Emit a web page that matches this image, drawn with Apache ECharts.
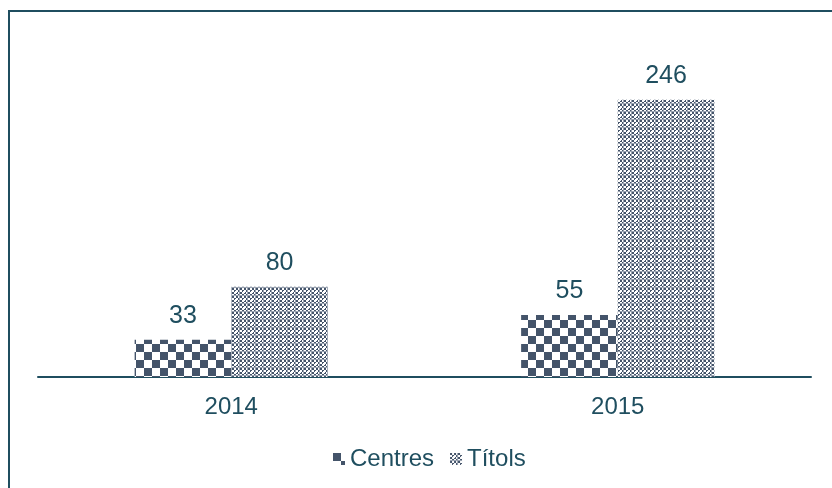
<!DOCTYPE html>
<html>
<head>
<meta charset="utf-8">
<script src="https://cdn.jsdelivr.net/npm/echarts@6/dist/echarts.min.js"></script>
<style>html,body{margin:0;padding:0;background:#fff}#c{width:832px;height:488px}</style>
</head>
<body>
<div id="c"></div>
<script>
const categories = ['2014', '2015'];
const centres = [33, 55];
const titols = [80, 246];
const seriesNames = ['Centres', 'Títols'];

const dark = '#44546a';
const teal = '#1f4e5f';
const ff = 'Liberation Sans, Arial, sans-serif';

function checkerPattern() {
  const c = document.createElement('canvas');
  c.width = 16; c.height = 16;
  const g = c.getContext('2d');
  g.fillStyle = '#fff'; g.fillRect(0, 0, 16, 16);
  g.fillStyle = dark;
  g.fillRect(0, 0, 8, 8);
  g.fillRect(8, 8, 8, 8);
  return c;
}
function finePattern() {
  const c = document.createElement('canvas');
  c.width = 8; c.height = 8;
  const g = c.getContext('2d');
  g.fillStyle = '#fff'; g.fillRect(0, 0, 8, 8);
  g.fillStyle = dark;
  for (let y = 0; y < 8; y += 2) {
    for (let x = 0; x < 8; x += 2) {
      if (((x + y) / 2) % 2 === 0) g.fillRect(x, y, 2, 2);
    }
  }
  g.fillStyle = '#9aa3b1';
  g.fillRect(7, 0, 1, 8);
  g.fillRect(0, 7, 8, 1);
  g.fillStyle = '#fff';
  g.fillRect(3, 3, 2, 2);
  return c;
}

const chart = echarts.init(document.getElementById('c'), null, { renderer: 'canvas' });
const labelStyle = {
  show: true, position: 'top', distance: 11,
  color: teal, fontSize: 25, fontFamily: ff
};
chart.setOption({
  animation: false,
  graphic: [{
    type: 'rect', silent: true,
    shape: { x: 9, y: 11, width: 1000, height: 1000 },
    style: { fill: 'none', stroke: teal, lineWidth: 2 }
  }],
  grid: { left: 38, right: 21, top: 39, bottom: 111 },
  legend: {
    top: 442, left: 328, itemWidth: 12, itemHeight: 12, itemGap: 16,
    icon: 'rect',
    textStyle: { color: teal, fontSize: 24, fontFamily: ff },
    data: seriesNames
  },
  xAxis: {
    type: 'category', data: categories,
    axisLine: { lineStyle: { color: teal, width: 2 } },
    axisTick: { show: false },
    axisLabel: { color: teal, fontSize: 24, margin: 18, fontFamily: ff }
  },
  yAxis: {
    type: 'value', min: 0, max: 300, show: false,
    splitLine: { show: false }
  },
  series: [
    {
      name: seriesNames[0], type: 'bar', data: centres,
      barGap: '0%', barCategoryGap: '50%',
      itemStyle: { color: { image: checkerPattern(), repeat: 'repeat' } },
      label: labelStyle
    },
    {
      name: seriesNames[1], type: 'bar', data: titols,
      barGap: '0%', barCategoryGap: '50%',
      itemStyle: { color: { image: finePattern(), repeat: 'repeat' } },
      label: labelStyle
    }
  ]
});
</script>
</body>
</html>
